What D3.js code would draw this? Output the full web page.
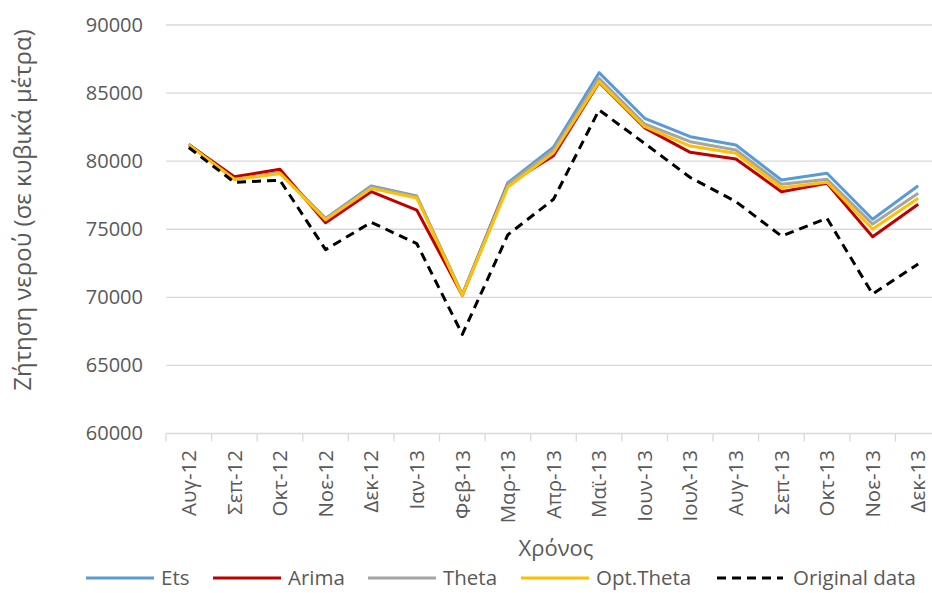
<!DOCTYPE html>
<html>
<head>
<meta charset="utf-8">
<script src="https://cdn.jsdelivr.net/npm/d3@7"></script>
<style>
  body { margin: 0; background: #fff; }
  text { font-family: "Open Sans", sans-serif; fill: #595959; }
</style>
</head>
<body>
<div class="chart"></div>
<script>
var svgWidth = 932;
var svgHeight = 593;

// Data
var months = ["Αυγ-12", "Σεπ-12", "Οκτ-12", "Νοε-12", "Δεκ-12", "Ιαν-13", "Φεβ-13", "Μαρ-13", "Απρ-13",
  "Μαϊ-13", "Ιουν-13", "Ιουλ-13", "Αυγ-13", "Σεπ-13", "Οκτ-13", "Νοε-13", "Δεκ-13"];
var ets = [81250, 78700, 79150, 75800, 78180, 77440, 70200, 78420, 81020, 86500, 83150, 81800, 81190, 78620, 79110, 75730, 78200];
var arima = [81200, 78860, 79400, 75480, 77760, 76410, 70150, 78300, 80400, 85800, 82450, 80650, 80160, 77760, 78370, 74450, 76830];
var theta = [81200, 78680, 79120, 75750, 78100, 77400, 70180, 78300, 80820, 86090, 82730, 81430, 80820, 78300, 78670, 75380, 77640];
var optTheta = [81200, 78650, 79100, 75700, 78000, 77300, 70150, 78100, 80620, 85840, 82530, 81110, 80580, 78050, 78450, 75020, 77270];
var original = [81000, 78450, 78600, 73500, 75510, 73950, 67280, 74600, 77200, 83760, 81300, 78800, 77030, 74500, 75800, 70240, 72450];
var yTicks = [60000, 65000, 70000, 75000, 80000, 85000, 90000];

var series = [
  { name: "Ets", values: ets, color: "#5B9BD5", dash: null },
  { name: "Arima", values: arima, color: "#C00000", dash: null },
  { name: "Theta", values: theta, color: "#A5A5A5", dash: null },
  { name: "Opt.Theta", values: optTheta, color: "#FFC000", dash: null },
  { name: "Original data", values: original, color: "#000000", dash: "9,6" }
];

var plot = { left: 166, right: 941, top: 25, bottom: 433.5 };

var svg = d3.select(".chart")
  .append("svg")
  .attr("width", svgWidth)
  .attr("height", svgHeight);

var xScale = d3.scaleBand()
  .domain(months)
  .range([plot.left, plot.right]);

var yScale = d3.scaleLinear()
  .domain([60000, 90000])
  .range([plot.bottom, plot.top]);

// Gridlines
svg.append("g")
  .selectAll("line")
  .data(yTicks.slice(1))
  .enter()
  .append("line")
  .attr("x1", plot.left)
  .attr("x2", plot.right)
  .attr("y1", d => yScale(d))
  .attr("y2", d => yScale(d))
  .attr("stroke", "#d9d9d9")
  .attr("stroke-width", 1.3);

// Y axis (labels only)
var leftAxis = d3.axisLeft(yScale)
  .tickValues(yTicks)
  .tickFormat(d3.format("d"))
  .tickSize(0)
  .tickPadding(23);
var yAxisG = svg.append("g")
  .attr("transform", `translate(${plot.left}, 0)`)
  .call(leftAxis);
yAxisG.select(".domain").remove();
yAxisG.selectAll("text")
  .style("font-size", "20px")
  .attr("fill", "#595959");

// X axis: line + tick marks at category boundaries
svg.append("line")
  .attr("x1", plot.left)
  .attr("x2", plot.right)
  .attr("y1", plot.bottom)
  .attr("y2", plot.bottom)
  .attr("stroke", "#d9d9d9")
  .attr("stroke-width", 1.3);

svg.append("g")
  .selectAll("line")
  .data(months)
  .enter()
  .append("line")
  .attr("x1", d => xScale(d))
  .attr("x2", d => xScale(d))
  .attr("y1", plot.bottom)
  .attr("y2", plot.bottom + 8)
  .attr("stroke", "#d9d9d9")
  .attr("stroke-width", 1.3);

svg.append("g")
  .selectAll("text")
  .data(months)
  .enter()
  .append("text")
  .attr("transform", d => `translate(${xScale(d) + xScale.bandwidth() / 2}, 450) rotate(-90)`)
  .attr("text-anchor", "end")
  .attr("dy", "0.35em")
  .style("font-size", "20.5px")
  .text(d => d);

// Axis titles
svg.append("text")
  .attr("transform", "translate(23, 210) rotate(-90)")
  .attr("text-anchor", "middle")
  .attr("dy", "0.35em")
  .style("font-size", "24px")
  .text("Ζήτηση νερού (σε κυβικά μέτρα)");

svg.append("text")
  .attr("x", 556)
  .attr("y", 556)
  .attr("text-anchor", "middle")
  .style("font-size", "22px")
  .text("Χρόνος");

// Lines
var line = d3.line()
  .x((d, i) => xScale(months[i]) + xScale.bandwidth() / 2)
  .y(d => yScale(d));

svg.append("g")
  .selectAll("path")
  .data(series)
  .enter()
  .append("path")
  .attr("d", d => line(d.values))
  .attr("fill", "none")
  .attr("stroke", d => d.color)
  .attr("stroke-width", 3)
  .attr("stroke-dasharray", d => d.dash)
  .attr("stroke-linejoin", "round");

// Legend
var legendX = [86, 213, 368, 521, 717];
var legend = svg.append("g")
  .selectAll("g")
  .data(series)
  .enter()
  .append("g")
  .attr("transform", (d, i) => `translate(${legendX[i]}, 578)`);

legend.append("line")
  .attr("x1", 0)
  .attr("x2", (d, i) => i === 4 ? 66 : 68)
  .attr("y1", 0)
  .attr("y2", 0)
  .attr("stroke", d => d.color)
  .attr("stroke-width", 3)
  .attr("stroke-dasharray", d => d.dash);

legend.append("text")
  .attr("x", (d, i) => i === 4 ? 76 : 75)
  .attr("dy", "0.35em")
  .style("font-size", "20.5px")
  .text(d => d.name);
</script>
</body>
</html>
